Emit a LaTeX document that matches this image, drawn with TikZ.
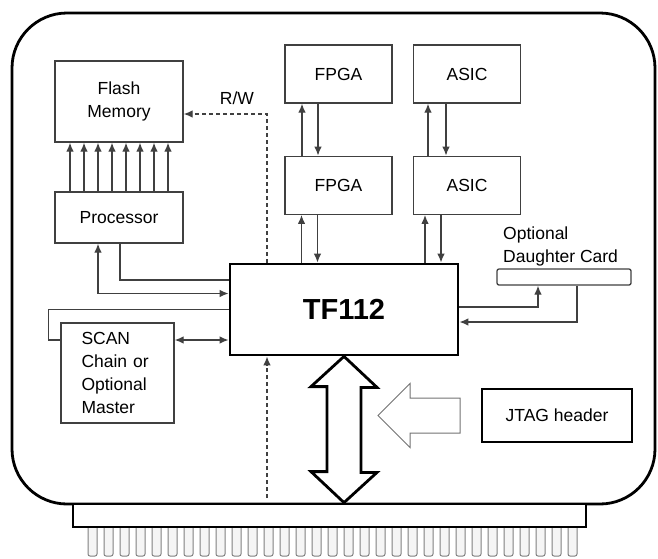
\documentclass[tikz,border=0pt]{standalone}
\usepackage{fontspec}
\setmainfont{Liberation Sans}
\usetikzlibrary{arrows.meta,positioning}
\newcommand{\lblfont}{\fontsize{17.5}{23}\selectfont}

\begin{document}
\begin{tikzpicture}[x=1pt,y=-1pt,
  box/.style={draw=black!75,line width=1.3pt,align=center,font=\lblfont,inner sep=0pt,fill=white},
  chip/.style={box,minimum width=107pt,minimum height=58pt},
  heavy/.style={draw=black,line width=2.8pt},
  link/.style={draw=black!75,line width=1.3pt},
  arrow/.style={link,-{Latex[length=9pt,width=7.5pt]}},
  twoway/.style={link,{Latex[length=9pt,width=7.5pt]}-{Latex[length=9pt,width=7.5pt]}},
  dasharrow/.style={arrow,dash pattern=on 4pt off 3pt},
  pin/.style={draw=black!50,fill=black!4,line width=1pt,rounded corners=2pt}
]
\useasboundingbox (0,0) rectangle (658,558);
% board and edge connector
\foreach \i in {0,...,30}
  \draw[pin] (88+16*\i,520) rectangle ++(9,36);
\draw[heavy,rounded corners=55pt] (12,13) rectangle (655,504);
\node[heavy,fill=white,minimum width=513pt,minimum height=23pt,inner sep=0pt] (edge) at (329.5,515.5) {};
% blocks
\node[box,minimum width=128pt,minimum height=81pt] (flash) at (119,101.5) {Flash\\Memory};
\node[box,minimum width=128pt,minimum height=51pt] (proc) at (119,217.5) {Processor};
\node[chip] (fpgatop) at (338.5,74) {FPGA};
\node[chip,below=52pt of fpgatop] (fpgabot) {FPGA};
\node[chip] (asictop) at (467,74) {ASIC};
\node[chip,below=52pt of asictop] (asicbot) {ASIC};
\node[box,heavy,minimum width=228pt,minimum height=91pt,font=\bfseries\fontsize{29}{29}\selectfont] (tf) at (344,309.5) {TF112};
\node[box,align=left,text width=72pt,inner xsep=20.5pt,minimum height=100pt] (scan) at (117.5,373) {SCAN\\Chain or\\Optional\\Master};
\node[box,rounded corners=2pt,minimum width=134pt,minimum height=16pt] (card) at (564,277) {};
\node[font=\lblfont,align=left,anchor=south west,inner sep=0pt] (cardlbl) at (503,266) {Optional\\Daughter Card};
\node[box,heavy,minimum width=150pt,minimum height=53pt] (jtag) at (557,415.5) {JTAG header};
\node[font=\lblfont,inner sep=0pt] (rw) at (237,98) {R/W};
% processor to flash bus
\foreach \k in {0,...,7}
  \draw[arrow] ([xshift=-49pt+14pt*\k]proc.north) -- ([xshift=-49pt+14pt*\k]flash.south);
% chip stacks
\draw[arrow] ([xshift=-36.5pt]fpgabot.north) -- ([xshift=-36.5pt]fpgatop.south);
\draw[arrow] ([xshift=-20.5pt]fpgatop.south) -- ([xshift=-20.5pt]fpgabot.north);
\draw[arrow] ([xshift=-39pt]asicbot.north) -- ([xshift=-39pt]asictop.south);
\draw[arrow] ([xshift=-21pt]asictop.south) -- ([xshift=-21pt]asicbot.north);
\draw[arrow] ([xshift=-37pt]fpgabot.south |- tf.north) -- ([xshift=-37pt]fpgabot.south);
\draw[arrow] ([xshift=-21pt]fpgabot.south) -- ([xshift=-21pt]fpgabot.south |- tf.north);
\draw[arrow] ([xshift=-42pt]asicbot.south |- tf.north) -- ([xshift=-42pt]asicbot.south);
\draw[arrow] ([xshift=-26pt]asicbot.south) -- ([xshift=-26pt]asicbot.south |- tf.north);
% processor and scan links
\draw[twoway] ([xshift=-21pt]proc.south) |- ([yshift=16pt]tf.west);
\draw[link] ([xshift=1pt]proc.south) |- ([yshift=29.5pt]tf.west);
\draw[link] (tf.west) -- ++(-180,0) |- ([yshift=33pt]scan.west);
\draw[twoway] ([yshift=33pt]scan.east) -- ([yshift=33pt]scan.east -| tf.west);
% read/write and edge signal
\draw[dasharrow] ([xshift=-77pt]tf.north) |- ([yshift=-12.5pt]flash.east);
\coordinate (edgein) at (267,498);
\draw[dasharrow] (edgein) -- (edgein |- tf.south);
% daughter card
\draw[arrow] ([yshift=2.5pt]tf.east) -| ([xshift=-26pt]card.south);
\draw[arrow] ([xshift=13pt]card.south) |- ([yshift=-12.5pt]tf.east);
% host bus
\coordinate (busend) at (tf.south |- edge.north);
\draw[heavy,fill=white,line join=miter] (tf.south) -- ++(33,31) -- ++(-16,0) -- ++(0,85) -- ++(16,0) -- (busend)
  -- ++(-33,-31) -- ++(16,0) -- ++(0,-85) -- ++(-16,0) -- cycle;
% jtag input
\coordinate (jtagtip) at (378,415.5);
\draw[draw=black!55,line width=1pt,fill=white] (jtagtip) -- ++(32,-32) -- ++(0,14.5) -- ++(50,0) -- ++(0,35)
  -- ++(-50,0) -- ++(0,14.5) -- cycle;
\end{tikzpicture}
\end{document}
